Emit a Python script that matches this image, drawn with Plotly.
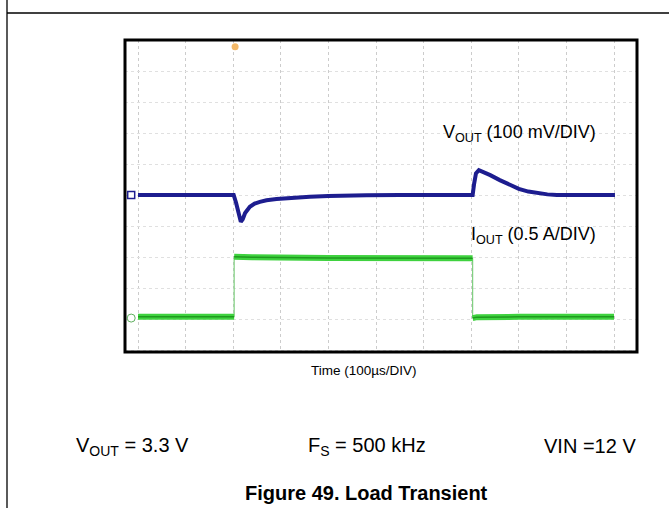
import plotly.graph_objects as go

# ---------------- data ----------------
# time in microseconds from the left graticule line (100 us / div)
vout_t = [0, 100, 190, 201, 206, 211, 216, 220, 225, 235, 245, 256, 270, 291, 320, 361, 400, 431, 480, 550,
          650, 700, 703, 706, 710, 716, 725, 740, 760, 780, 800, 820, 840, 860, 880, 920, 1002]
vout_mv = [0, 0, 0, 0, -25, -60, -86, -78, -58, -38, -28, -22, -17, -13, -9, -5.5, -3.5, -2, -1, 0,
           0, 0, 0, 35, 70, 80, 75, 64, 48, 34, 20, 11, 5, 2, 0, 0, 0]

iout_t = [0, 100, 202, 202, 240, 400, 600, 703, 703, 712, 800, 1000]
iout_a = [0.02, 0.02, 0.02, 0.99, 0.98, 0.97, 0.965, 0.965, 0.0, 0.015, 0.02, 0.02]

vout_scale_mv = 100     # mV / div
iout_scale_a = 0.5      # A / div
ch1_offset_div = 0.0
ch4_offset_div = -3.97

trigger_t = 200
x_divs = list(range(0, 1001, 100))
y_divs = list(range(-5, 6))

# ---------------- geometry ----------------
W, H = 669, 508
box_l, box_r, box_t, box_b = 125, 637, 40, 352      # scope frame (px)
grid_l_px, grid_r_px = 138, 614                     # 0 us and 1000 us
grid_t_px, grid_c_px = 40, 195                      # +5 div and 0 div

px_per_us = (grid_r_px - grid_l_px) / 1000.0
x0 = (box_l - grid_l_px) / px_per_us
x1 = (box_r - grid_l_px) / px_per_us
px_per_div = (grid_c_px - grid_t_px) / 5.0
y1 = (grid_c_px - box_t) / px_per_div
y0 = (grid_c_px - box_b) / px_per_div

# ---------------- traces ----------------
vy = [ch1_offset_div + v / vout_scale_mv for v in vout_mv]
iy = [ch4_offset_div + a / iout_scale_a for a in iout_a]

thick_x, thick_y, thin_x, thin_y = [], [], [], []
for i in range(len(iout_t)):
    if i > 0 and abs(iout_a[i] - iout_a[i - 1]) > 0.3:
        thick_x.append(None); thick_y.append(None)
        thin_x += [iout_t[i - 1], iout_t[i], None]
        thin_y += [iy[i - 1], iy[i], None]
    thick_x.append(iout_t[i]); thick_y.append(iy[i])

fig = go.Figure()
fig.add_trace(go.Scatter(x=thin_x, y=thin_y, mode="lines",
                         line=dict(color="#7fcf7f", width=1.2), hoverinfo="skip"))
fig.add_trace(go.Scatter(x=thick_x, y=thick_y, mode="lines",
                         line=dict(color="#3fd23f", width=6), hoverinfo="skip"))
fig.add_trace(go.Scatter(x=thick_x, y=thick_y, mode="lines",
                         line=dict(color="#1f9a1f", width=1.5), hoverinfo="skip"))
fig.add_trace(go.Scatter(x=vout_t, y=vy, mode="lines",
                         line=dict(color="#1d1d8f", width=4), hoverinfo="skip"))

# channel / trigger markers
fig.add_trace(go.Scatter(x=[x0 + 13], y=[ch1_offset_div], mode="markers",
                         marker=dict(symbol="square", size=7, color="white",
                                     line=dict(color="#1d1d8f", width=1.5)), hoverinfo="skip"))
fig.add_trace(go.Scatter(x=[x0 + 13], y=[ch4_offset_div], mode="markers",
                         marker=dict(symbol="circle", size=8, color="white",
                                     line=dict(color="#5fb05f", width=1)), hoverinfo="skip"))
fig.add_trace(go.Scatter(x=[trigger_t + 4], y=[4.78], mode="markers",
                         marker=dict(symbol="circle", size=7, color="#f3b868"), hoverinfo="skip"))

fig.update_xaxes(domain=[box_l / W, box_r / W], range=[x0, x1], tickvals=x_divs,
                 showticklabels=False, ticks="", showgrid=True, gridcolor="#cccccc",
                 griddash="dot", gridwidth=1, zeroline=False, showline=False, fixedrange=True)
fig.update_yaxes(domain=[1 - box_b / H, 1 - box_t / H], range=[y0, y1], tickvals=y_divs,
                 showticklabels=False, ticks="", showgrid=True, gridcolor="#e0e0e0",
                 griddash="dot", gridwidth=1, zeroline=False, showline=False, fixedrange=True)

shapes = [
    dict(type="rect", xref="x domain", yref="y domain", x0=0, x1=1, y0=0, y1=1,
         line=dict(color="black", width=3)),
    dict(type="line", xref="paper", yref="paper", x0=7 / W, x1=7 / W, y0=0, y1=1,
         line=dict(color="black", width=1.3)),
    dict(type="line", xref="paper", yref="paper", x0=7 / W, x1=1, y0=1 - 13 / H, y1=1 - 13 / H,
         line=dict(color="black", width=1.3)),
]

font = "Liberation Sans, Arial, sans-serif"
ann = [
    dict(text="V<sub>OUT</sub> (100 mV/DIV)", x=598 / W, y=1 - 133 / H, xanchor="right", yanchor="middle",
         font=dict(size=18, color="black", family=font)),
    dict(text="I<sub>OUT</sub> (0.5 A/DIV)", x=598 / W, y=1 - 235 / H, xanchor="right", yanchor="middle",
         font=dict(size=18, color="black", family=font)),
    dict(text="Time (100µs/DIV)", x=364 / W, y=1 - 370 / H, xanchor="center", yanchor="middle",
         font=dict(size=13.5, color="black", family=font)),
    dict(text="V<sub>OUT</sub> = 3.3 V", x=74 / W, y=1 - 446 / H, xanchor="left", yanchor="middle",
         font=dict(size=20, color="black", family=font)),
    dict(text="F<sub>S</sub> = 500 kHz", x=306 / W, y=1 - 446 / H, xanchor="left", yanchor="middle",
         font=dict(size=20, color="black", family=font)),
    dict(text="VIN =12 V", x=638 / W, y=1 - 446 / H, xanchor="right", yanchor="middle",
         font=dict(size=20, color="black", family=font)),
    dict(text="<b>Figure 49. Load Transient</b>", x=366 / W, y=1 - 493 / H, xanchor="center", yanchor="middle",
         font=dict(size=20, color="black", family=font)),
]
for a in ann:
    a.update(xref="paper", yref="paper", showarrow=False)

fig.update_layout(width=W, height=H, margin=dict(l=0, r=0, t=0, b=0),
                  paper_bgcolor="white", plot_bgcolor="white", showlegend=False,
                  shapes=shapes, annotations=ann)

fig.write_html("out.html", config={"displayModeBar": False, "staticPlot": True},
               post_script="document.body.style.margin='0px';")
